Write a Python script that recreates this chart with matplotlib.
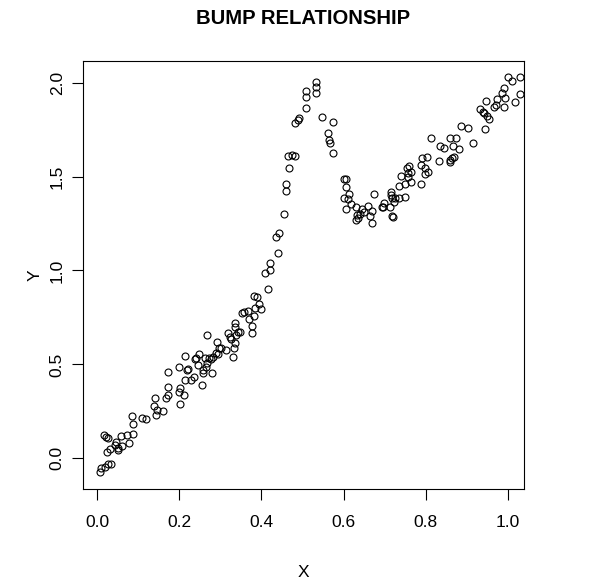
import numpy as np
import matplotlib
matplotlib.use("Agg")
import matplotlib.pyplot as plt

plt.rcParams["font.family"] = ["Liberation Sans", "DejaVu Sans"]

TITLE = "BUMP RELATIONSHIP"
X_LABEL = "X"
Y_LABEL = "Y"
X_TICKS = [0.0, 0.2, 0.4, 0.6, 0.8, 1.0]
Y_TICKS = [0.0, 0.5, 1.0, 1.5, 2.0]

# linear part, x < 0.42
x_low = [0.008, 0.009, 0.019, 0.026, 0.035, 0.017, 0.021, 0.028, 0.025, 0.032,
         0.043, 0.046, 0.050, 0.052, 0.058, 0.061, 0.072, 0.078, 0.087, 0.087,
         0.085, 0.109, 0.119, 0.141, 0.139, 0.143, 0.147, 0.161, 0.169, 0.174,
         0.174, 0.174, 0.200, 0.202, 0.199, 0.203, 0.211, 0.213, 0.213, 0.218,
         0.222, 0.228, 0.235, 0.239, 0.241, 0.246, 0.248, 0.257, 0.257, 0.256,
         0.263, 0.265, 0.267, 0.268, 0.272, 0.277, 0.279, 0.283, 0.289, 0.293,
         0.294, 0.298, 0.302, 0.315, 0.320, 0.324, 0.327, 0.331, 0.333, 0.335,
         0.336, 0.337, 0.338, 0.342, 0.348, 0.353, 0.357, 0.368, 0.370, 0.378,
         0.377, 0.383, 0.385, 0.381, 0.390, 0.394, 0.398, 0.416]
y_low = [-0.071, -0.053, -0.048, -0.032, -0.030, 0.124, 0.115, 0.106, 0.035, 0.048,
         0.071, 0.085, 0.053, 0.044, 0.119, 0.065, 0.124, 0.083, 0.128, 0.183,
         0.227, 0.213, 0.208, 0.319, 0.278, 0.231, 0.257, 0.254, 0.319, 0.337,
         0.378, 0.461, 0.484, 0.373, 0.355, 0.289, 0.337, 0.417, 0.545, 0.470,
         0.474, 0.417, 0.435, 0.527, 0.536, 0.497, 0.555, 0.470, 0.453, 0.390,
         0.532, 0.488, 0.657, 0.506, 0.532, 0.529, 0.456, 0.538, 0.562, 0.621,
         0.555, 0.586, 0.586, 0.577, 0.666, 0.648, 0.634, 0.541, 0.586, 0.701,
         0.719, 0.616, 0.657, 0.675, 0.675, 0.775, 0.777, 0.786, 0.740, 0.705,
         0.666, 0.760, 0.799, 0.864, 0.857, 0.821, 0.793, 0.902]

# the bump
x_bump = [0.409, 0.420, 0.420, 0.440, 0.435, 0.443, 0.456, 0.460, 0.460, 0.468,
          0.466, 0.474, 0.483, 0.481, 0.488, 0.491, 0.508, 0.508, 0.508, 0.533,
          0.533, 0.533, 0.548, 0.574, 0.561, 0.564, 0.568, 0.574]
y_bump = [0.985, 1.003, 1.042, 1.092, 1.180, 1.198, 1.299, 1.425, 1.461, 1.544,
          1.610, 1.615, 1.611, 1.784, 1.802, 1.814, 1.864, 1.922, 1.957, 1.944,
          1.975, 2.005, 1.816, 1.791, 1.734, 1.695, 1.677, 1.627]

# dip and second linear part
x_high = [0.601, 0.607, 0.605, 0.614, 0.601, 0.610, 0.617, 0.605, 0.630, 0.632,
          0.630, 0.636, 0.641, 0.646, 0.649, 0.660, 0.664, 0.669, 0.668, 0.673,
          0.693, 0.696, 0.699, 0.715, 0.715, 0.719, 0.722, 0.726, 0.713, 0.719,
          0.721, 0.734, 0.749, 0.735, 0.740, 0.749, 0.756, 0.760, 0.755, 0.757,
          0.763, 0.765, 0.789, 0.792, 0.802, 0.789, 0.799, 0.797, 0.806, 0.813,
          0.831, 0.834, 0.845, 0.858, 0.860, 0.863, 0.868, 0.860, 0.874, 0.866,
          0.880, 0.886, 0.903, 0.915, 0.932, 0.939, 0.942, 0.948, 0.955, 0.947,
          0.945, 0.967, 0.970, 0.974, 0.985, 0.991, 0.993, 0.991, 1.000, 1.011,
          1.029, 1.018, 1.029]
y_high = [1.486, 1.486, 1.443, 1.406, 1.384, 1.379, 1.354, 1.326, 1.340, 1.296,
          1.269, 1.278, 1.301, 1.326, 1.313, 1.343, 1.290, 1.317, 1.255, 1.407,
          1.336, 1.340, 1.358, 1.420, 1.402, 1.384, 1.366, 1.384, 1.340, 1.290,
          1.287, 1.384, 1.389, 1.450, 1.503, 1.463, 1.496, 1.557, 1.545, 1.517,
          1.526, 1.473, 1.463, 1.601, 1.606, 1.562, 1.544, 1.512, 1.526, 1.707,
          1.583, 1.663, 1.651, 1.575, 1.587, 1.599, 1.604, 1.707, 1.707, 1.663,
          1.645, 1.771, 1.757, 1.677, 1.858, 1.846, 1.837, 1.820, 1.805, 1.904,
          1.752, 1.873, 1.882, 1.912, 1.944, 1.970, 1.917, 1.868, 2.032, 2.010,
          2.032, 1.899, 1.938]

x = np.array(x_low + x_bump + x_high)
y = np.array(y_low + y_bump + y_high)

W, H = 591, 584
fig = plt.figure(figsize=(W / 100, H / 100), dpi=100)

# plot region in pixels (R style base plot)
left, right, top, bottom = 83, 524, 60.7, 489.3
ax = fig.add_axes([left / W, 1 - bottom / H, (right - left) / W, (bottom - top) / H])

ax.plot(x, y, "o", mfc="none", mec="black", ms=5.0, mew=0.8)

ax.set_xlim(-0.034, 1.039)
ax.set_ylim(-0.165, 2.117)

for s in ax.spines.values():
    s.set_linewidth(0.8)
    s.set_color("black")

fs = 12.5
ax.set_xticks(X_TICKS)
ax.set_xticklabels([f"{t:.1f}" for t in X_TICKS], fontsize=fs)
ax.set_yticks(Y_TICKS)
ax.set_yticklabels([f"{t:.1f}" for t in Y_TICKS], fontsize=fs, rotation=90, va="center")
ax.tick_params(axis="x", direction="out", length=7.7, width=0.8, pad=11.0)
ax.tick_params(axis="y", direction="out", length=7.7, width=0.8, pad=5.5)

cx = (left + right) / 2 / W
fig.text(cx, 1 - 24 / H, TITLE, ha="center", va="baseline", fontsize=14.6, fontweight="bold")
fig.text(cx, 1 - 577 / H, X_LABEL, ha="center", va="baseline", fontsize=fs)
fig.text(35 / W, 1 - (top + bottom) / 2 / H, Y_LABEL, ha="center", va="center",
         rotation=90, fontsize=fs)

fig.savefig("out.png", dpi=100, facecolor="white")
